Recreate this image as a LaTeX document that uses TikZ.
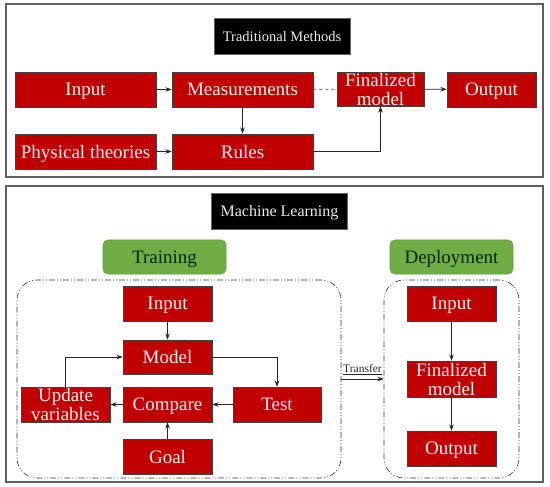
\documentclass[tikz,border=0pt]{standalone}
\usepackage{fontspec}
\setmainfont{Liberation Serif}
\usepackage{xcolor}
\usetikzlibrary{arrows.meta}

\definecolor{boxred}{RGB}{192,0,0}
\definecolor{boxgreen}{RGB}{112,173,71}
\definecolor{greenline}{RGB}{96,158,60}
\definecolor{framegray}{RGB}{95,95,95}

\begin{document}
\begin{tikzpicture}[
  x=1pt, y=-1pt,
  >={Stealth[length=2.2mm, width=1.6mm]},
  every node/.style={align=center, inner sep=1pt},
  redbox/.style={draw=black!75, line width=0.6pt, fill=boxred, text=white!95!black, text depth=0pt, font=\fontsize{19}{19}\selectfont},
  titlebox/.style={draw=black!60, fill=black, text=white!92!black, text depth=0pt, font=\fontsize{14.5}{16}\selectfont, minimum width=136pt, minimum height=36pt},
  phasebox/.style={draw=greenline, line width=0.6pt, fill=boxgreen, rounded corners=5pt, text=black!85!green, text depth=0pt, font=\fontsize{19}{19}\selectfont, minimum width=123pt, minimum height=34pt},
  stagebox/.style={draw=black!80, line width=0.6pt, rounded corners=20pt, dash pattern=on 6pt off 2pt on 1pt off 2pt on 1pt off 2pt},
  frame/.style={draw=framegray, line width=1.1pt},
  arrow/.style={->, line width=0.7pt, color=black!85}
]
\useasboundingbox (0,0) rectangle (550,487);

% traditional methods
\draw[frame] (6,4) rectangle (543,177);
\node[titlebox] (tradtitle) at (282,36) {Traditional Methods};

\node[redbox, minimum width=141pt, minimum height=35pt] (tinput) at (85.5,89.5) {Input};
\node[redbox, minimum width=141pt, minimum height=35pt] (meas) at (242.5,89.5) {Measurements};
\node[redbox, minimum width=87pt, minimum height=34pt] (tfinal) at (380.5,89) {Finalized\\model};
\node[redbox, minimum width=89pt, minimum height=35pt] (toutput) at (491.5,89.5) {Output};
\node[redbox, minimum width=141pt, minimum height=35pt] (phys) at (85.5,151.5) {Physical theories};
\node[redbox, minimum width=141pt, minimum height=35pt] (rules) at (242.5,151.5) {Rules};

\draw[arrow] (tinput) -- (meas);
\draw[arrow] (meas) -- (rules);
\draw[line width=0.7pt, color=black!70, dashed] (meas) -- (tfinal);
\draw[arrow] (tfinal) -- (toutput);
\draw[arrow] (phys) -- (rules);
\draw[arrow] (rules.east) -| (tfinal.south);

% machine learning
\draw[frame] (6,186) rectangle (543,482);
\node[titlebox, font=\fontsize{16}{17}\selectfont] (mltitle) at (279.5,211) {Machine Learning};
\node[phasebox] (training) at (164.5,257) {Training};
\node[phasebox] (deployment) at (451.5,257) {Deployment};

\node[stagebox, minimum width=324pt, minimum height=198pt] (trainarea) at (179,379) {};
\node[stagebox, minimum width=135pt, minimum height=198pt] (deployarea) at (451.5,379) {};

\node[redbox, minimum width=89pt, minimum height=35pt] (minput) at (167.5,303.5) {Input};
\node[redbox, minimum width=89pt, minimum height=34pt] (model) at (167.5,357) {Model};
\node[redbox, minimum width=89pt, minimum height=35pt] (compare) at (167.5,404.5) {Compare};
\node[redbox, minimum width=89pt, minimum height=35pt] (goal) at (167.5,456.5) {Goal};
\node[redbox, minimum width=89pt, minimum height=35pt] (update) at (65.5,404.5) {Update\\variables};
\node[redbox, minimum width=88pt, minimum height=35pt] (test) at (277,404.5) {Test};

\node[redbox, minimum width=89pt, minimum height=35pt] (dinput) at (451.5,303.5) {Input};
\node[redbox, minimum width=89pt, minimum height=36pt] (dfinal) at (451.5,379) {Finalized\\model};
\node[redbox, minimum width=89pt, minimum height=35pt] (doutput) at (451.5,448.5) {Output};

\draw[arrow] (minput) -- (model);
\draw[arrow] (model.east) -| (test.north);
\draw[arrow] (test) -- (compare);
\draw[arrow] (compare) -- (update);
\draw[arrow] (goal) -- (compare);
\draw[arrow] (update.north) |- (model.west);

\draw[arrow] (trainarea.east) -- node[above=3pt, font=\fontsize{11.5}{12}\selectfont]{\underline{Transfer}} (deployarea.west);

\draw[arrow] (dinput) -- (dfinal);
\draw[arrow] (dfinal) -- (doutput);

\end{tikzpicture}
\end{document}
